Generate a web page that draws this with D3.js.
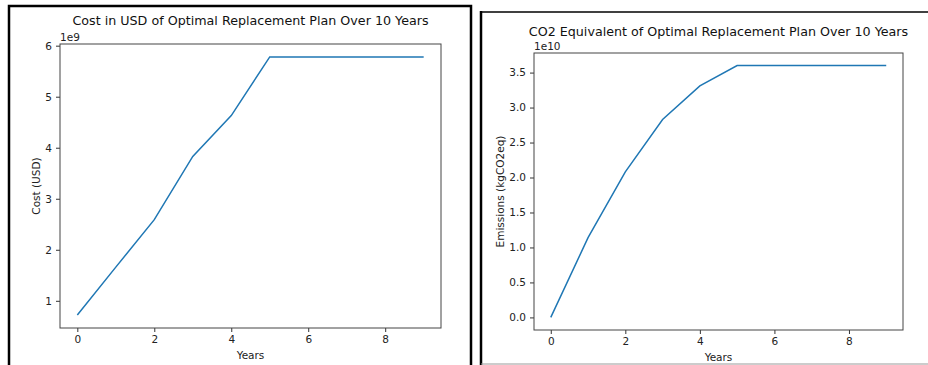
<!DOCTYPE html>
<html>
<head>
<meta charset="utf-8">
<script src="https://cdn.jsdelivr.net/npm/d3@7"></script>
<style>
  body { margin: 0; background: #fff; }
  svg { display: block; font-family: "DejaVu Sans", sans-serif; }
</style>
</head>
<body>
<script>
// data
var years = [0, 1, 2, 3, 4, 5, 6, 7, 8, 9];
var costUSD = [0.72e9, 1.66e9, 2.59e9, 3.83e9, 4.63e9, 5.78e9, 5.78e9, 5.78e9, 5.78e9, 5.78e9];
var emissions = [0.0, 1.14e10, 2.08e10, 2.83e10, 3.31e10, 3.60e10, 3.60e10, 3.60e10, 3.60e10, 3.60e10];
var costTicks = [1, 2, 3, 4, 5, 6];
var emisTicks = [0.0, 0.5, 1.0, 1.5, 2.0, 2.5, 3.0, 3.5];
var xTicks = [0, 2, 4, 6, 8];

var width = 928, height = 365;
var svg = d3.select("body").append("svg")
    .attr("width", width)
    .attr("height", height);

// panel borders
svg.append("rect")
    .attr("x", 9).attr("y", 6).attr("width", 462).attr("height", 400)
    .attr("fill", "none").attr("stroke", "#000").attr("stroke-width", 2.5);
svg.append("line")
    .attr("x1", 481).attr("y1", 11).attr("x2", 481).attr("y2", 365)
    .attr("stroke", "#000").attr("stroke-width", 2.5);
svg.append("line")
    .attr("x1", 480).attr("y1", 12).attr("x2", 928).attr("y2", 12)
    .attr("stroke", "#000").attr("stroke-width", 1.5);
svg.append("line")
    .attr("x1", 481).attr("y1", 364).attr("x2", 928).attr("y2", 364)
    .attr("stroke", "#999").attr("stroke-width", 1);

function drawPanel(opts) {
    var g = svg.append("g");
    var scale = opts.scale;
    var vals = opts.values.map(function (v) { return v / scale; });

    var lo = d3.min(vals), hi = d3.max(vals), pad = (hi - lo) * 0.05;
    var xScale = d3.scaleLinear().domain([-0.45, 9.45]).range([opts.left, opts.right]);
    var yScale = d3.scaleLinear().domain([lo - pad, hi + pad]).range([opts.bottom, opts.top]);

    var xAxis = d3.axisBottom(xScale).tickValues(xTicks).tickSize(4).tickPadding(4)
        .tickFormat(d3.format("d"));
    var yAxis = d3.axisLeft(yScale).tickValues(opts.yTicks).tickSize(4).tickPadding(4)
        .tickFormat(opts.fmt);

    g.append("g")
        .attr("transform", "translate(0," + opts.bottom + ")")
        .call(xAxis);
    g.append("g")
        .attr("transform", "translate(" + opts.left + ",0)")
        .call(yAxis);

    g.selectAll(".domain").remove();
    g.selectAll(".tick line").attr("stroke", "#333");
    g.selectAll(".tick text").attr("fill", "#222").style("font-size", "10.5px")
        .style("font-family", "DejaVu Sans, sans-serif");

    // frame
    g.append("rect")
        .attr("x", opts.left).attr("y", opts.top)
        .attr("width", opts.right - opts.left).attr("height", opts.bottom - opts.top)
        .attr("fill", "none").attr("stroke", "#444").attr("stroke-width", 1);

    var line = d3.line()
        .x(function (d, i) { return xScale(years[i]); })
        .y(function (d) { return yScale(d); });
    g.append("path")
        .datum(vals)
        .attr("d", line)
        .attr("fill", "none")
        .attr("stroke", "#1f77b4")
        .attr("stroke-width", 1.5);

    // title, offset label, axis labels
    g.append("text")
        .attr("x", (opts.left + opts.right) / 2).attr("y", opts.top - opts.titleGap)
        .attr("text-anchor", "middle").style("font-size", "12.7px").attr("fill", "#111")
        .text(opts.title);
    g.append("text")
        .attr("x", opts.left).attr("y", opts.top - 3)
        .style("font-size", "10.5px").attr("fill", "#222")
        .text(opts.offsetText);
    g.append("text")
        .attr("x", (opts.left + opts.right) / 2).attr("y", opts.bottom + 31)
        .attr("text-anchor", "middle").style("font-size", "10.5px").attr("fill", "#222")
        .text("Years");
    g.append("text")
        .attr("transform", "translate(" + opts.ylabelX + "," + ((opts.top + opts.bottom) / 2) + ") rotate(-90)")
        .attr("text-anchor", "middle").style("font-size", "10.5px").attr("fill", "#222")
        .text(opts.ylabel);
}

drawPanel({
    values: costUSD, scale: 1e9, yTicks: costTicks, fmt: d3.format("d"),
    left: 60, right: 441, top: 44, bottom: 328,
    title: "Cost in USD of Optimal Replacement Plan Over 10 Years", titleGap: 19,
    offsetText: "1e9", ylabel: "Cost (USD)", ylabelX: 40
});

drawPanel({
    values: emissions, scale: 1e10, yTicks: emisTicks, fmt: d3.format(".1f"),
    left: 534, right: 903, top: 53, bottom: 330,
    title: "CO2 Equivalent of Optimal Replacement Plan Over 10 Years", titleGap: 17,
    offsetText: "1e10", ylabel: "Emissions (kgCO2eq)", ylabelX: 504
});
</script>
</body>
</html>
